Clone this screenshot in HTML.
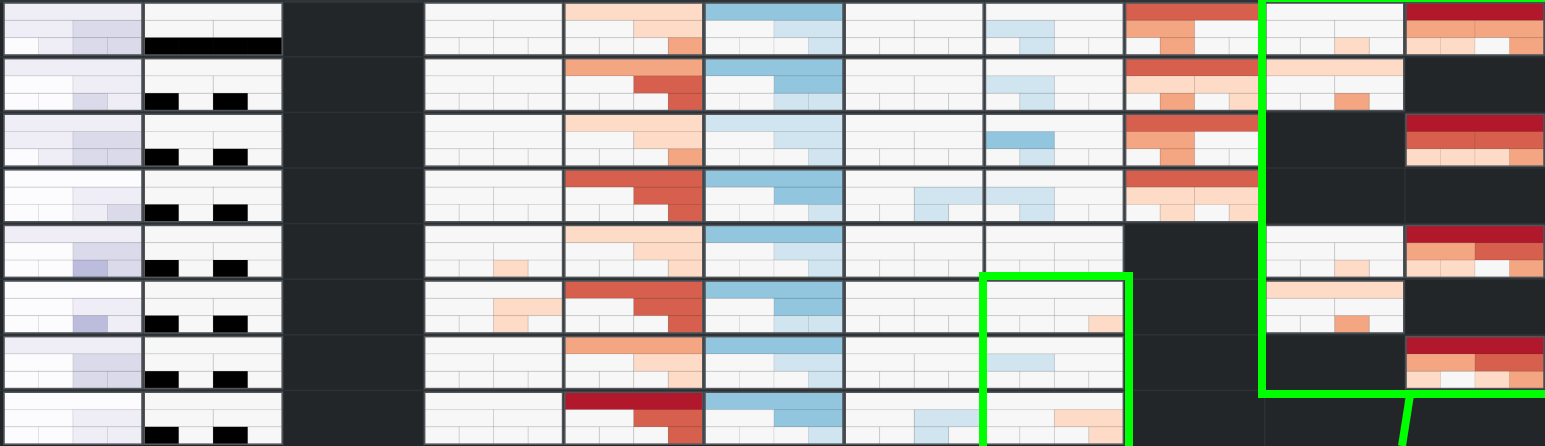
<!DOCTYPE html>
<html><head><meta charset="utf-8"><style>
html,body{margin:0;padding:0;background:#222629;}
svg{display:block;}
</style></head><body>
<svg id="chart" width="1545" height="446" viewBox="0 0 1545 446" xmlns="http://www.w3.org/2000/svg">
<rect x="0" y="0" width="1545" height="446" fill="#222629"/>
<rect x="0" y="0" width="1545" height="3" fill="#2f3438"/>
<g id="cells"></g>
<g id="overlay">
<rect x="983" y="276" width="146" height="190" fill="none" stroke="#00ff00" stroke-width="8"/>
<rect x="1262" y="-2" width="300" height="396" fill="none" stroke="#00ff00" stroke-width="8"/>
<line x1="1410" y1="395" x2="1402" y2="446" stroke="#00ff00" stroke-width="8"/>
</g>
</svg>
<script>
// Per column cell values: 7 codes (top, mid-left, mid-right, bottom 1-4); null = empty cell
const col0 = ["1120122","1010021","1120122","0010012","1020032","0010031","1020022","0010011"];
const col1 = ["0001111","0001010","0001010","0001010","0001010","0001010","0001010","0001010"];
const col2 = [null,null,null,null,null,null,null,null];
const col3 = ["0000000","0000000","0000000","0000000","00000a0","00a00a0","0000000","0000000"];
const col4 = ["a0a000b","b0c000c","a0a000b","c0c000c","a0a000a","c0c000c","b0a000a","d0c000c"];
const col5 = ["f0e000e","f0f00ee","e0e000e","f0f000e","f0e000e","f0f00ee","f0e000e","f0f000e"];
const col6 = ["0000000","0000000","0000000","00e00e0","0000000","0000000","0000000","00e00e0"];
const col7 = ["0e00e00","0e00e00","0f00e00","0e00e00","0000000","000000a","0e00000","00a000a"];
const col8 = ["cb00b00","caa0b0a","cb00b00","caa0a0a",null,null,null,null];
const col9 = ["00000a0","a0000b0",null,null,"00000a0","a0000b0",null,null];
const col10 = ["dbbaa0b",null,"dccaaab",null,"dbcaa0b",null,"dbca0ab",null];
const columns = [col0,col1,col2,col3,col4,col5,col6,col7,col8,col9,col10];

const purple = {"0":"#fcfbfd","1":"#efedf5","2":"#dadaeb","3":"#bcbddc"};
const bw = {"0":"#f7f7f7","1":"#000000"};
const div = {"0":"#f7f7f7","a":"#fddbc7","b":"#f4a582","c":"#d6604d","d":"#b2182b","e":"#d1e5f0","f":"#92c5de"};
const palettes = [purple,bw,div,div,div,div,div,div,div,div,div];

const NS="http://www.w3.org/2000/svg";
const g=document.getElementById('cells');
const X0=4, DX=140.2, Y0=3, DY=55.6, W=138, H=52;
function colX(c){return X0+c*DX;}
function rowY(r){return Y0+r*DY;}
for(let r=1;r<8;r++){
  const l=document.createElementNS(NS,'line');
  l.setAttribute('x1',0);l.setAttribute('x2',1545);
  l.setAttribute('y1',rowY(r)-1.8);l.setAttribute('y2',rowY(r)-1.8);
  l.setAttribute('stroke','#2c3135');l.setAttribute('stroke-width','1.5');
  
  
  g.appendChild(l);
}
for(let c=1;c<11;c++){
  const l=document.createElementNS(NS,'line');
  l.setAttribute('y1',0);l.setAttribute('y2',446);
  l.setAttribute('x1',colX(c)-1.1);l.setAttribute('x2',colX(c)-1.1);
  l.setAttribute('stroke','#2c3135');l.setAttribute('stroke-width','1.5');
  
  
  g.appendChild(l);
}
columns.forEach((col,c)=>{
  col.forEach((v,r)=>{
    if(!v) return;
    const pal=palettes[c];
    const x=colX(c), y=rowY(r);
    const cg=document.createElementNS(NS,'g');
    
    
    const subs=[[0,0,1],[1,0,2],[1,1,2],[2,0,4],[2,1,4],[2,2,4],[2,3,4]];
    subs.forEach((s,i)=>{
      const [row,idx,n]=s;
      const rc=document.createElementNS(NS,'rect');
      const sw=W/n, sh=H/3;
      rc.setAttribute('x',x+idx*sw);rc.setAttribute('y',y+row*sh);
      rc.setAttribute('width',sw);rc.setAttribute('height',sh);
      rc.setAttribute('fill',pal[v[i]]||pal["0"]);
      rc.setAttribute('stroke','rgba(0,0,0,0.07)');rc.setAttribute('stroke-width','1');
      
      
      cg.appendChild(rc);
    });
    const b=document.createElementNS(NS,'rect');
    b.setAttribute('x',x);b.setAttribute('y',y);b.setAttribute('width',W);b.setAttribute('height',H);
    b.setAttribute('fill','none');b.setAttribute('stroke','#50555a');b.setAttribute('stroke-width','1.6');
    
    
    cg.appendChild(b);
    g.appendChild(cg);
  });
});
</script>
</body></html>
